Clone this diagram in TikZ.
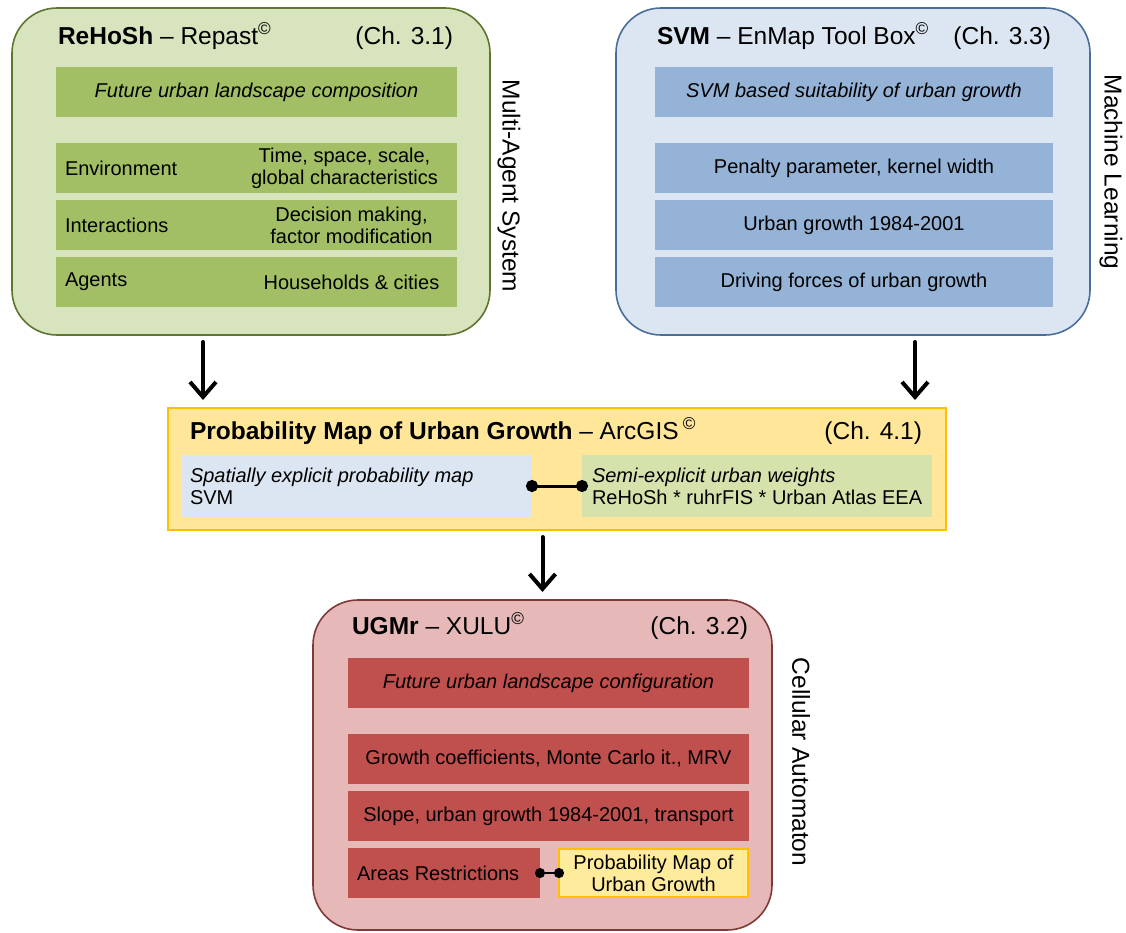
\documentclass[tikz,border=0pt]{standalone}
\usepackage{fontspec}
\setmainfont{Liberation Sans}
\usepackage{xcolor}
\usetikzlibrary{arrows.meta, positioning}

\definecolor{masfill}{HTML}{D7E4BD}
\definecolor{masbar}{HTML}{A2BF65}
\definecolor{masline}{HTML}{5E7530}
\definecolor{svmfill}{HTML}{DCE6F2}
\definecolor{svmbar}{HTML}{95B3D7}
\definecolor{svmline}{HTML}{4A6E9A}
\definecolor{cafill}{HTML}{E6B9B8}
\definecolor{cabar}{HTML}{C0504D}
\definecolor{caline}{HTML}{7F3A38}
\definecolor{mapfill}{HTML}{FFE699}
\definecolor{mapline}{HTML}{FFC000}
\definecolor{mapsmall}{HTML}{FFEB9C}
\definecolor{weightfill}{HTML}{D5E2AC}

\newcommand\rowfont{\fontsize{20}{22}\selectfont}
\newcommand\headfont{\fontsize{24.5}{28}\selectfont}
\newcommand\sidefont{\fontsize{24.5}{28}\selectfont}
\newcommand\cpr{\textsuperscript{\textcopyright}}

\begin{document}
\begin{tikzpicture}[
    x=1pt, y=-1pt,                                   % one unit = one pixel of the sketch
    every node/.style={inner sep=0pt, outer sep=0pt, font=\rowfont},
    frame/.style={draw, rounded corners=45pt, line width=1.6pt},
    bar/.style={minimum width=401pt, minimum height=50pt},
    head/.style={font=\headfont},
    side/.style={font=\sidefont, rotate=-90},
    bigarrow/.style={-{Straight Barb[length=15pt,width=26pt]}, line width=4pt,
                     line cap=round, shorten <=7pt, shorten >=8pt},
    link/.style={{Circle[length=12pt]}-{Circle[length=12pt]}, line width=3pt,
                 shorten <=-6pt, shorten >=-6pt},
    smalllink/.style={{Circle[length=10pt]}-{Circle[length=10pt]}, line width=2.5pt,
                      shorten <=-5pt, shorten >=-5pt},
    node distance=7pt                                % gap between stacked bars
  ]
  \useasboundingbox (0,0) rectangle (1126,932);

  % multi-agent system
  \node[frame, draw=masline, fill=masfill, minimum width=478pt, minimum height=327pt] (mas) at (251,171.5) {};
  \node[head, anchor=base west] (mastitle) at (58,44) {\textbf{ReHoSh} -- Repast\cpr};
  \node[head, anchor=base east] (masch) at (453,44) {(Ch. 3.1)};
  \node[bar, fill=masbar] (mascomp) at (256.5,92) {\itshape Future urban landscape composition};
  \node[bar, fill=masbar, below=26pt of mascomp] (env) {};
  \node[bar, fill=masbar, below=of env] (inter) {};
  \node[bar, fill=masbar, below=of inter] (agents) {};
  \node[anchor=west] (envl) at ([xshift=9pt]env.west) {Environment};
  \node[align=center] (envr) at ([xshift=88pt]env.center) {Time, space, scale,\\global characteristics};
  \node[anchor=west] (interl) at ([xshift=9pt]inter.west) {Interactions};
  \node[align=center] (interr) at ([xshift=95pt]inter.center) {Decision making,\\factor modification};
  \node[anchor=west] (agentsl) at ([xshift=9pt]agents.west) {Agents};
  \node (agentsr) at ([xshift=95pt]agents.center) {Households \& cities};
  \node[side] (masside) at (509,186) {Multi-Agent System};

  % machine learning
  \node[frame, draw=svmline, fill=svmfill, minimum width=474pt, minimum height=327pt] (svm) at (853,171.5) {};
  \node[head, anchor=base west] (svmtitle) at (657,44) {\textbf{SVM} -- EnMap Tool Box\cpr};
  \node[head, anchor=base east] (svmch) at (1051,44) {(Ch. 3.3)};
  \node[bar, fill=svmbar, minimum width=398pt] (svmcomp) at (854,92) {\itshape SVM based suitability of urban growth};
  \node[bar, fill=svmbar, minimum width=398pt, below=26pt of svmcomp] (penalty) {Penalty parameter, kernel width};
  \node[bar, fill=svmbar, minimum width=398pt, below=of penalty] (growth) {Urban growth 1984-2001};
  \node[bar, fill=svmbar, minimum width=398pt, below=of growth] (forces) {Driving forces of urban growth};
  \node[side] (svmside) at (1111,172) {Machine Learning};

  % probability map
  \node[draw=mapline, fill=mapfill, line width=2.5pt, minimum width=778pt, minimum height=122pt] (map) at (557,469) {};
  \node[head, anchor=base west] (maptitle) at (190,439) {\textbf{Probability Map of Urban Growth} -- ArcGIS\,\cpr};
  \node[head, anchor=base east] (mapch) at (922,439) {(Ch. 4.1)};
  \node[fill=svmfill, minimum width=351pt, minimum height=62pt] (svmmap) at (356.5,486) {};
  \node[fill=weightfill, minimum width=350pt, minimum height=62pt] (weights) at (757,486) {};
  \node[anchor=west, align=left] (svmmapt) at ([xshift=9pt]svmmap.west) {{\itshape Spatially explicit probability map}\\SVM};
  \node[anchor=west, align=left] (weightst) at ([xshift=10pt]weights.west) {{\itshape Semi-explicit urban weights}\\ReHoSh * ruhrFIS * Urban Atlas EEA};
  \draw[link] (svmmap.east) -- (weights.west);

  % cellular automaton
  \node[frame, draw=caline, fill=cafill, minimum width=459pt, minimum height=330pt] (ca) at (542.5,765) {};
  \node[head, anchor=base west] (catitle) at (352,634) {\textbf{UGMr} -- XULU\cpr};
  \node[head, anchor=base east] (cach) at (748,634) {(Ch. 3.2)};
  \node[bar, fill=cabar] (cacomp) at (548.5,683) {\itshape Future urban landscape configuration};
  \node[bar, fill=cabar, below=26pt of cacomp] (coeff) {Growth coefficients, Monte Carlo it., MRV};
  \node[bar, fill=cabar, below=of coeff] (slope) {Slope, urban growth 1984-2001, transport};
  \node[fill=cabar, minimum width=192pt, minimum height=50pt, below right=7pt and 0pt of slope.south west] (areas) {};
  \node[anchor=west] (areast) at ([xshift=9pt]areas.west) {Areas Restrictions};
  \node[draw=mapline, fill=mapsmall, line width=2.5pt, minimum width=189pt, minimum height=48pt,
        align=center, below left=8pt and 1pt of slope.south east] (pmap) {Probability Map of\\Urban Growth};
  \draw[smalllink] (areas.east) -- (pmap.west);
  \node[side] (caside) at (801,762) {Cellular Automaton};

  % flow between the models
  \draw[bigarrow] ([xshift=-48pt]mas.south) -- ([xshift=-48pt]mas.south |- map.north);
  \draw[bigarrow] ([xshift=62pt]svm.south) -- ([xshift=62pt]svm.south |- map.north);
  \draw[bigarrow] (ca.north |- map.south) -- (ca.north);
\end{tikzpicture}
\end{document}
